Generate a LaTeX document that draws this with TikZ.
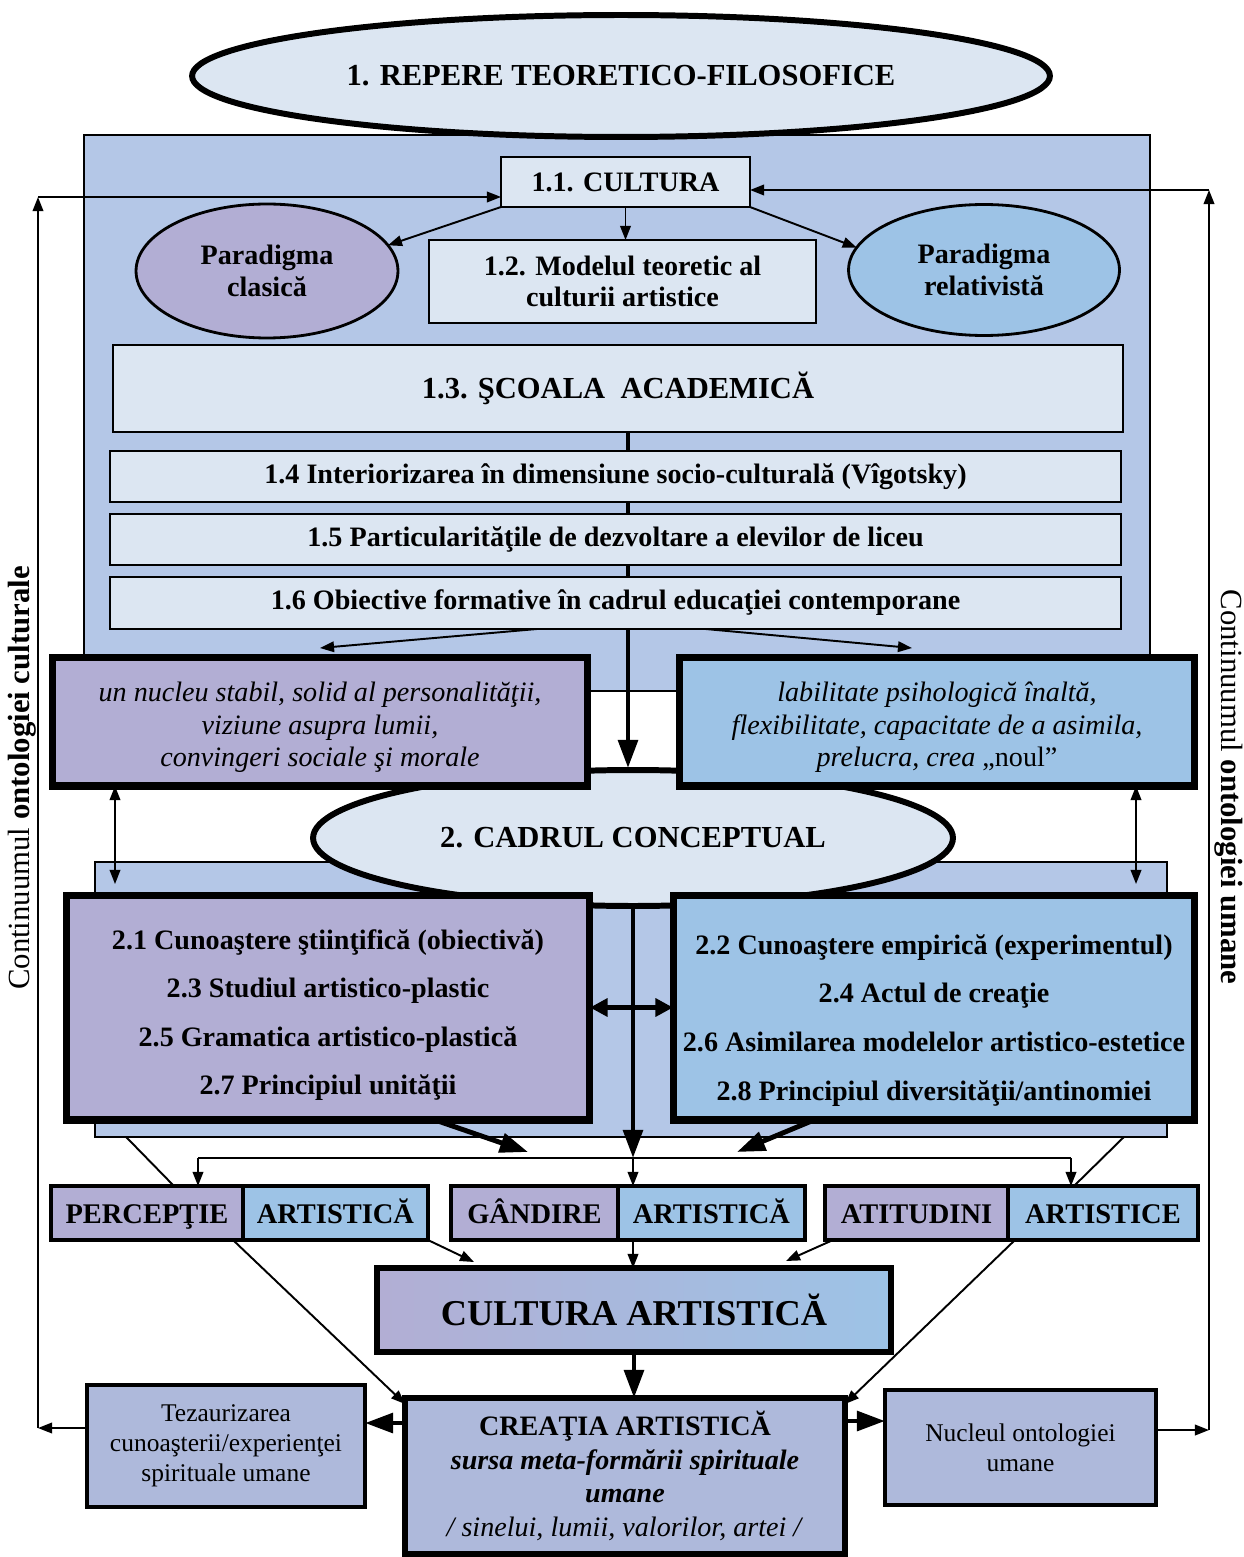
\documentclass[tikz,border=0pt]{standalone}
\usepackage{fontspec}
\setmainfont{Liberation Serif}
\usetikzlibrary{positioning, shapes.geometric, arrows.meta}

\definecolor{lite}{HTML}{DCE6F2}
\definecolor{panel}{HTML}{B4C7E7}
\definecolor{lila}{HTML}{B2AED4}
\definecolor{sky}{HTML}{9DC3E6}
\definecolor{slate}{HTML}{AEB9DB}

\begin{document}
\begin{tikzpicture}[x=0.02cm, y=-0.02cm,
		every node/.style={inner sep=0pt, outer sep=0pt},
		panelbox/.style={draw, rectangle, fill=panel, line width=1pt},
		box/.style={draw, rectangle, fill=lite, line width=1.2pt, align=center, font=\bfseries\fontsize{16}{18}\selectfont},
		bigbox/.style={draw, rectangle, line width=4pt, align=center},
		oval/.style={draw, ellipse, fill=lite, line width=3.4pt, font=\bfseries\fontsize{17.4}{20}\selectfont},
		para/.style={draw, ellipse, line width=1.6pt, align=center, font=\bfseries\fontsize{16}{18.5}\selectfont},
		half/.style={draw, rectangle, line width=2pt, minimum height=1.08cm, text height=1.2em, text depth=0pt, font=\bfseries\fontsize{16.2}{18}\selectfont},
		endbox/.style={draw, rectangle, fill=slate, line width=1.8pt, align=center, font=\fontsize{14.5}{17}\selectfont},
		arr/.style={-{Triangle[length=8pt,width=6pt]}, line width=1.1pt},
		arrT/.style={-{Triangle[length=16pt,width=11pt]}, line width=2.8pt},
		arrD/.style={{Triangle[length=10pt,width=10pt]}-{Triangle[length=10pt,width=10pt]}, line width=2.8pt},
		arrB/.style={{Triangle[length=8pt,width=6pt]}-{Triangle[length=8pt,width=6pt]}, line width=1.1pt}]

	\useasboundingbox (0,0) rectangle (1243,1557);

	\node[panelbox, minimum width=21.32cm, minimum height=11.12cm] (p1) at (617,413) {};
	\node[panelbox, minimum width=21.44cm, minimum height=5.5cm] (p2) at (631,999.5) {};
	\node[oval, minimum width=17.16cm, minimum height=2.44cm] (e1) at (621,76) {1. REPERE TEORETICO-FILOSOFICE};
	\node[oval, minimum width=12.8cm, minimum height=2.72cm] (e2) at (633,838) {2. CADRUL CONCEPTUAL};

	\node[box, minimum width=4.98cm, minimum height=1cm, font=\bfseries\fontsize{16}{19}\selectfont] (c11) at (625.5,182) {1.1. CULTURA};
	\node[box, minimum width=7.74cm, minimum height=1.66cm, font=\bfseries\fontsize{16}{18}\selectfont] (c12) at (622.5,281.5) {1.2. Modelul teoretic al\\culturii artistice};
	\node[para, fill=lila, minimum width=5.24cm, minimum height=2.68cm] (pcl) at (267,271) {Paradigma\\clasică};
	\node[para, fill=sky, minimum width=5.42cm, minimum height=2.62cm] (prel) at (984,270) {Paradigma\\relativistă};
	\node[box, minimum width=20.2cm, minimum height=1.74cm, font=\bfseries\fontsize{17.4}{20}\selectfont] (c13) at (618,388.5) {1.3. ŞCOALA~~ACADEMICĂ};

	\coordinate (sp) at (628,768);
	\draw[arrT] (c13.south -| sp) -- (sp);

	\node[box, minimum width=20.22cm, minimum height=1.02cm] (c14) at (615.5,476.5) {1.4 Interiorizarea în dimensiune socio-culturală (Vîgotsky)};
	\node[box, minimum width=20.22cm, minimum height=1.02cm] (c15) at (615.5,539.5) {1.5 Particularităţile de dezvoltare a elevilor de liceu};
	\node[box, minimum width=20.22cm, minimum height=1.04cm] (c16) at (615.5,603) {1.6 Obiective formative în cadrul educaţiei contemporane};

	\node[bigbox, fill=lila, minimum width=10.72cm, minimum height=2.58cm, font=\itshape\fontsize{16}{18.5}\selectfont] (nl) at (320,721.5) {\rule{0pt}{18pt}un nucleu stabil, solid al personalităţii,\\viziune asupra lumii,\\convingeri sociale şi morale};
	\node[bigbox, fill=sky, minimum width=10.32cm, minimum height=2.58cm, font=\itshape\fontsize{16}{18.5}\selectfont] (nr) at (937,721.5) {\rule{0pt}{18pt}labilitate psihologică înaltă,\\flexibilitate, capacitate de a asimila,\\prelucra, crea \textup{„noul”}};

	\node[bigbox, fill=lila, minimum width=10.48cm, minimum height=4.5cm, font=\bfseries\fontsize{16}{27.5}\selectfont] (b21) at (328,1007.5) {\rule{0pt}{20pt}2.1 Cunoaştere ştiinţifică (obiectivă)\\2.3 Studiul artistico-plastic\\2.5 Gramatica artistico-plastică\\2.7 Principiul unităţii};
	\node[bigbox, fill=sky, minimum width=10.44cm, minimum height=4.5cm, font=\bfseries\fontsize{16}{27.8}\selectfont] (b22) at (934,1007.5) {\rule{0pt}{26pt}2.2 Cunoaştere empirică (experimentul)\\2.4 Actul de creaţie\\2.6 Asimilarea modelelor artistico-estetice\\2.8 Principiul diversităţii/antinomiei};

	\node[half, fill=lila, minimum width=3.84cm] (perc1) at (147,1213) {PERCEPŢIE};
	\node[half, fill=sky, minimum width=3.7cm, right=0pt of perc1] (perc2) {ARTISTICĂ};
	\node[half, fill=lila, minimum width=3.34cm] (gand1) at (534.5,1213) {GÂNDIRE};
	\node[half, fill=sky, minimum width=3.74cm, right=0pt of gand1] (gand2) {ARTISTICĂ};
	\node[half, fill=lila, minimum width=3.66cm] (atit1) at (916.5,1213) {ATITUDINI};
	\node[half, fill=sky, minimum width=3.8cm, right=0pt of atit1] (atit2) {ARTISTICE};

	\node[draw, line width=3.4pt, left color=lila, right color=sky, minimum width=10.28cm, minimum height=1.68cm, font=\bfseries\fontsize{20.7}{24}\selectfont] (ca) at (634,1310) {CULTURA ARTISTICĂ};
	\node[endbox, line width=3.4pt, minimum width=8.8cm, minimum height=3.12cm, font=\fontsize{16}{19}\selectfont] (cr) at (625,1476) {\textbf{CREAŢIA ARTISTICĂ}\\\textbf{\textit{sursa meta-formării spirituale}}\\\textbf{\textit{umane}}\\\textit{/ sinelui, lumii, valorilor, artei /}};
	\node[endbox, minimum width=5.56cm, minimum height=2.44cm] (tez) at (226,1446) {Tezaurizarea\\cunoaşterii/experienţei\\spirituale umane};
	\node[endbox, minimum width=5.42cm, minimum height=2.3cm] (nuc) at (1020.5,1447.5) {Nucleul ontologiei\\umane};

	\node[rotate=90, font=\fontsize{17.5}{20}\selectfont] (vl) at (22,778) {Continuumul \textbf{ontologiei culturale}};
	\node[rotate=-90, font=\fontsize{17.5}{20}\selectfont] (vr) at (1229,787) {Continuumul \textbf{ontologiei umane}};

	\coordinate (lt) at (38,197);
	\coordinate (lb) at (38,1428);
	\coordinate (rt) at (1209,190);
	\coordinate (rb) at (1209,1430);
	\coordinate (dl) at (115,0);
	\coordinate (dr) at (1136,0);
	\coordinate (hL) at (198,1158);
	\coordinate (hM) at (633,1158);
	\coordinate (hR) at (1071,1158);

	\draw[arr] (tez.west |- lb) -- (lb);
	\draw[arr] (lb) -- (lt);
	\draw[arr] (lt) -- (c11.west |- lt);
	\draw[arr] (nuc.east |- rb) -- (rb);
	\draw[arr] (rb) -- (rt);
	\draw[arr] (rt) -- (c11.east |- rt);

	\draw[arr] (c11.south west) -- (pcl.12);
	\draw[arr] (c11.south east) -- (prel.170);
	\draw[arr] (c11.south) -- (c11.south |- c12.north);
	\draw[arr] ([xshift=-1.57cm]c16.south) -- ([yshift=0.18cm]nl.north);
	\draw[arr] ([xshift=1.8cm]c16.south) -- ([xshift=-0.5cm,yshift=0.18cm]nr.north);

	\draw[arrB, shorten >=0.22cm] (nl.south -| dl) -- (b21.north -| dl);
	\draw[arrB, shorten >=0.22cm] (nr.south -| dr) -- (b22.north -| dr);
	\draw[arrD] (b21) -- (b22);

	\draw[arrT] (e2.south) -- (hM);
	\draw[line width=1.1pt] (hL) -- (hR);
	\draw[arr] (hL) -- (hL |- perc1.north);
	\draw[arr] (hM) -- (hM |- gand2.north);
	\draw[arr] (hR) -- (hR |- atit2.north);
	\draw[arrT] ([xshift=2.14cm]b21.south) -- ([xshift=-2.1cm,yshift=0.12cm]hM);
	\draw[arrT] ([xshift=-2.4cm]b22.south) -- ([xshift=2.08cm,yshift=0.12cm]hM);
	\draw[line width=1.1pt] ([xshift=0.62cm]p2.south west) -- ([xshift=0.54cm]perc1.north);
	\draw[line width=1.1pt] ([xshift=-0.86cm]p2.south east) -- ([xshift=-0.58cm]atit2.north);

	\draw[arr] (perc2.south east) -- ([xshift=1.94cm,yshift=0.12cm]ca.north west);
	\draw[arr] (hM |- gand2.south) -- (hM |- ca.north);
	\draw[arr] ([xshift=0.16cm]atit1.south west) -- ([xshift=-2.1cm,yshift=0.14cm]ca.north east);
	\draw[arr] ([xshift=-0.2cm]perc1.south east) -- ([yshift=-0.12cm]cr.north west);
	\draw[arr] ([xshift=0.14cm]atit2.south west) -- ([yshift=-0.12cm]cr.north east);
	\draw[arrT] (ca.south) -- (ca.south |- cr.north);

	\path ([yshift=-0.5cm]cr.north west) coordinate (crl);
	\path ([yshift=-0.46cm]cr.north east) coordinate (crr);
	\draw[arrT] (crl) -- (crl -| tez.east);
	\draw[arrT] (crr) -- (crr -| nuc.west);

\end{tikzpicture}
\end{document}
